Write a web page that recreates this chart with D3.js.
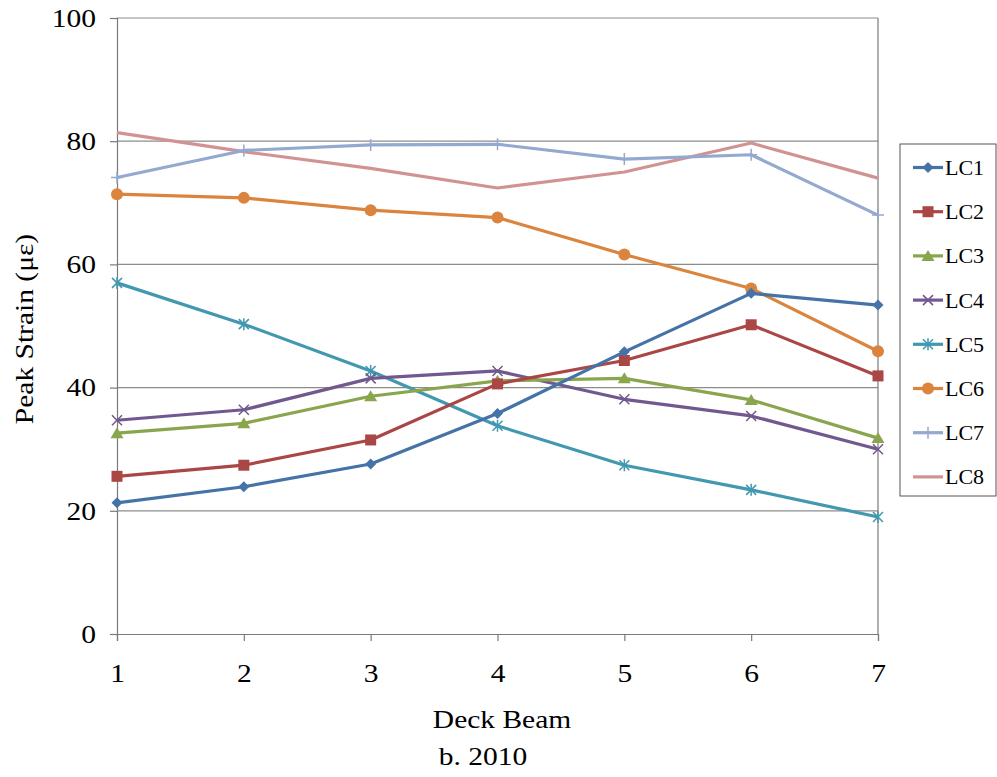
<!DOCTYPE html>
<html><head><meta charset="utf-8">
<script src="https://cdn.jsdelivr.net/npm/d3@7"></script>
<style>body{margin:0;background:#fff}svg{display:block}text{font-family:"Liberation Serif","Times New Roman",serif;fill:#000}</style>
</head><body>
<svg id="c" width="997" height="777"></svg>
<script>
const beams = [1,2,3,4,5,6,7];
const seriesNames = ["LC1","LC2","LC3","LC4","LC5","LC6","LC7","LC8"];
const LC1 = [21.3,23.9,27.6,35.8,45.8,55.3,53.4];
const LC2 = [25.6,27.4,31.5,40.6,44.4,50.2,41.9];
const LC3 = [32.6,34.2,38.6,41.1,41.5,38.0,31.8];
const LC4 = [34.7,36.4,41.5,42.7,38.1,35.4,30.0];
const LC5 = [57.0,50.3,42.7,33.8,27.4,23.4,19.0];
const LC6 = [71.4,70.8,68.8,67.6,61.6,56.1,45.9];
const LC7 = [74.1,78.5,79.4,79.5,77.1,77.8,68.0];
const LC8 = [81.4,78.3,75.6,72.4,75.0,79.7,74.0];
const yTicks = [0,20,40,60,80,100];
const colors = ["#4572A7","#AA4643","#89A54E","#71588F","#4198AF","#DB843D","#93A9CF","#D19392"];
const markers = ["diamond","square","triangle","x","asterisk","circle","plus","none"];
const values = [LC1,LC2,LC3,LC4,LC5,LC6,LC7,LC8];
const SX = 1.18;

const svg = d3.select("#c");
const x = d3.scaleLinear().domain([1,7]).range([117,878]);
const y = d3.scaleLinear().domain([0,100]).range([634,18]);

// gridlines
svg.append("g").selectAll("line").data(yTicks.filter(d=>d>0)).join("line")
  .attr("x1",x(1)).attr("x2",x(7)).attr("y1",d=>y(d)).attr("y2",d=>y(d))
  .attr("stroke","#8c8c8c").attr("stroke-width",1.2);
// right border
svg.append("line").attr("x1",x(7)).attr("x2",x(7)).attr("y1",y(100)).attr("y2",y(0))
  .attr("stroke","#7a7a7a").attr("stroke-width",1.2);

// axes
const yAxis = d3.axisLeft(y).tickValues(yTicks).tickSize(7);
const gy = svg.append("g").attr("transform",`translate(${x(1)},0)`).call(yAxis);
const xAxis = d3.axisBottom(x).tickValues(beams).tickSize(7).tickFormat(d3.format("d"));
const gx = svg.append("g").attr("transform",`translate(0,${y(0)})`).call(xAxis);
[gx,gy].forEach(g=>{
  g.select(".domain").attr("stroke","#7a7a7a").attr("stroke-width",1.2);
  g.selectAll(".tick line").attr("stroke","#7a7a7a").attr("stroke-width",1.2);
  g.selectAll(".tick text").attr("font-size",25).attr("fill","#000");
});
gy.selectAll(".tick text").attr("x",0).attr("y",0).attr("dy","0.33em").attr("text-anchor","end")
  .attr("transform",`translate(-21,0) scale(${SX},1)`);
gx.selectAll(".tick text").attr("x",0).attr("y",0).attr("dy",0).attr("text-anchor","middle")
  .attr("transform",`translate(0,48) scale(${SX},1)`);

function drawMarker(g, type, cx, cy, color){
  const s = 5.5;
  if(type==="diamond") g.append("path").attr("d",`M${cx},${cy-s}L${cx+s},${cy}L${cx},${cy+s}L${cx-s},${cy}Z`).attr("fill",color);
  else if(type==="square") g.append("rect").attr("x",cx-5.5).attr("y",cy-5.5).attr("width",11).attr("height",11).attr("fill",color);
  else if(type==="triangle") g.append("path").attr("d",`M${cx},${cy-6}L${cx+6.5},${cy+5}L${cx-6.5},${cy+5}Z`).attr("fill",color);
  else if(type==="circle") g.append("circle").attr("cx",cx).attr("cy",cy).attr("r",6).attr("fill",color);
  else if(type==="x") g.append("path").attr("d",`M${cx-5},${cy-5}L${cx+5},${cy+5}M${cx-5},${cy+5}L${cx+5},${cy-5}`).attr("stroke",color).attr("stroke-width",1.5);
  else if(type==="asterisk") g.append("path").attr("d",`M${cx-5},${cy-5}L${cx+5},${cy+5}M${cx-5},${cy+5}L${cx+5},${cy-5}M${cx},${cy-6}L${cx},${cy+6}`).attr("stroke",color).attr("stroke-width",1.5);
  else if(type==="plus") g.append("path").attr("d",`M${cx},${cy-6}L${cx},${cy+6}M${cx-6},${cy}L${cx+6},${cy}`).attr("stroke",color).attr("stroke-width",1.5);
}

const line = d3.line().x((d,i)=>x(beams[i])).y(d=>y(d));
const order = [7,6,5,4,3,2,1,0];
order.forEach(k=>{
  const g = svg.append("g");
  g.append("path").attr("d",line(values[k])).attr("fill","none").attr("stroke",colors[k]).attr("stroke-width",3.2).attr("stroke-linejoin","round");
  values[k].forEach((v,i)=>drawMarker(g, markers[k], x(beams[i]), y(v), colors[k]));
});

// legend
const lg = svg.append("g");
lg.append("rect").attr("x",900).attr("y",144).attr("width",96).attr("height",352).attr("fill","#fff").attr("stroke","#555").attr("stroke-width",1);
seriesNames.forEach((n,k)=>{
  const cy = 167.5 + k*44.2;
  lg.append("line").attr("x1",913).attr("x2",943).attr("y1",cy).attr("y2",cy).attr("stroke",colors[k]).attr("stroke-width",3.2);
  drawMarker(lg, markers[k], 928, cy, colors[k]);
  lg.append("text").attr("x",945).attr("y",cy+7.5).attr("font-size",22).text(n);
});

// titles
svg.append("text").attr("transform",`translate(33,329) rotate(-90) scale(${SX},1)`).attr("text-anchor","middle").attr("font-size",25).text("Peak Strain (με)");
svg.append("text").attr("transform",`translate(502,728) scale(${SX},1)`).attr("text-anchor","middle").attr("font-size",25).text("Deck Beam");
svg.append("text").attr("transform",`translate(483,765) scale(${SX},1)`).attr("text-anchor","middle").attr("font-size",25).text("b. 2010");
</script>
</body></html>
